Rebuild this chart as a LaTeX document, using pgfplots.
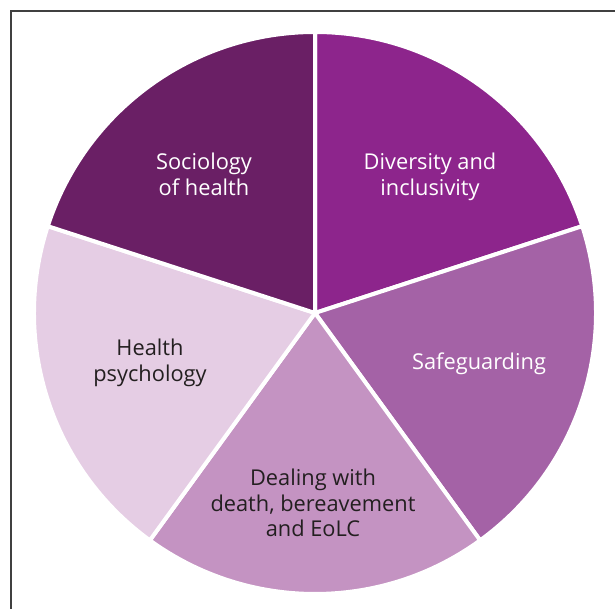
\documentclass[border=0pt]{standalone}
\usepackage{pgfplots}
\pgfplotsset{compat=1.18}
\usepackage{pgfplotstable}
\usepackage{fontspec}
\setmainfont{Open Sans}
\definecolor{c0}{HTML}{8D258C}
\definecolor{c1}{HTML}{A462A6}
\definecolor{c2}{HTML}{C493C2}
\definecolor{c3}{HTML}{E5CDE4}
\definecolor{c4}{HTML}{6A1F65}
\definecolor{txt}{HTML}{231F20}
\definecolor{frame}{HTML}{404040}
% shares (percent), clockwise from 12 o'clock:
% Diversity and inclusivity, Safeguarding, Dealing with death..., Health psychology, Sociology of health
\pgfplotstableread{
share
20
20
20
20
20
}\piedata
\begin{document}
\begin{tikzpicture}
\begin{axis}[
  x=0.5pt, y=0.5pt,
  xmin=-315, xmax=300, ymin=-296, ymax=313,
  hide axis, clip=false,
]
\coordinate (BL) at (axis cs:-315,-296);
\coordinate (TR) at (axis cs:300,313);
\draw[frame, line width=0.6pt] (axis cs:-304,-296) -- (axis cs:-304,302) -- (axis cs:300,302);
\pgfmathsetmacro\start{90}
\pgfplotsforeachungrouped \i in {0,...,4}{
  \pgfplotstablegetelem{\i}{share}\of\piedata
  \pgfmathsetmacro\sweep{3.6*\pgfplotsretval}
  \pgfmathsetmacro\endang{\start-\sweep}
  \edef\temp{\noexpand\fill[fill=c\i, draw=white, line width=2pt, line join=miter] (axis cs:0,0) -- ++(\start:140.5pt) arc[start angle=\start, end angle=\endang, radius=140.5pt] -- cycle;}
  \temp
  \let\start\endang
}
\begin{scope}[every node/.style={font=\fontsize{10.9}{12.9}\selectfont, align=center}]
\node[white] at (axis cs:115,136) {Diversity and\\inclusivity};
\node[white] at (axis cs:164,-51) {Safeguarding};
\node[txt] at (axis cs:-2,-190) {Dealing with\\death, bereavement\\and EoLC};
\node[txt] at (axis cs:-165,-50) {Health\\psychology};
\node[white] at (axis cs:-111,139) {Sociology\\of health};
\end{scope}
\end{axis}
\pgfresetboundingbox
\useasboundingbox (BL) rectangle (TR);
\end{tikzpicture}
\end{document}
